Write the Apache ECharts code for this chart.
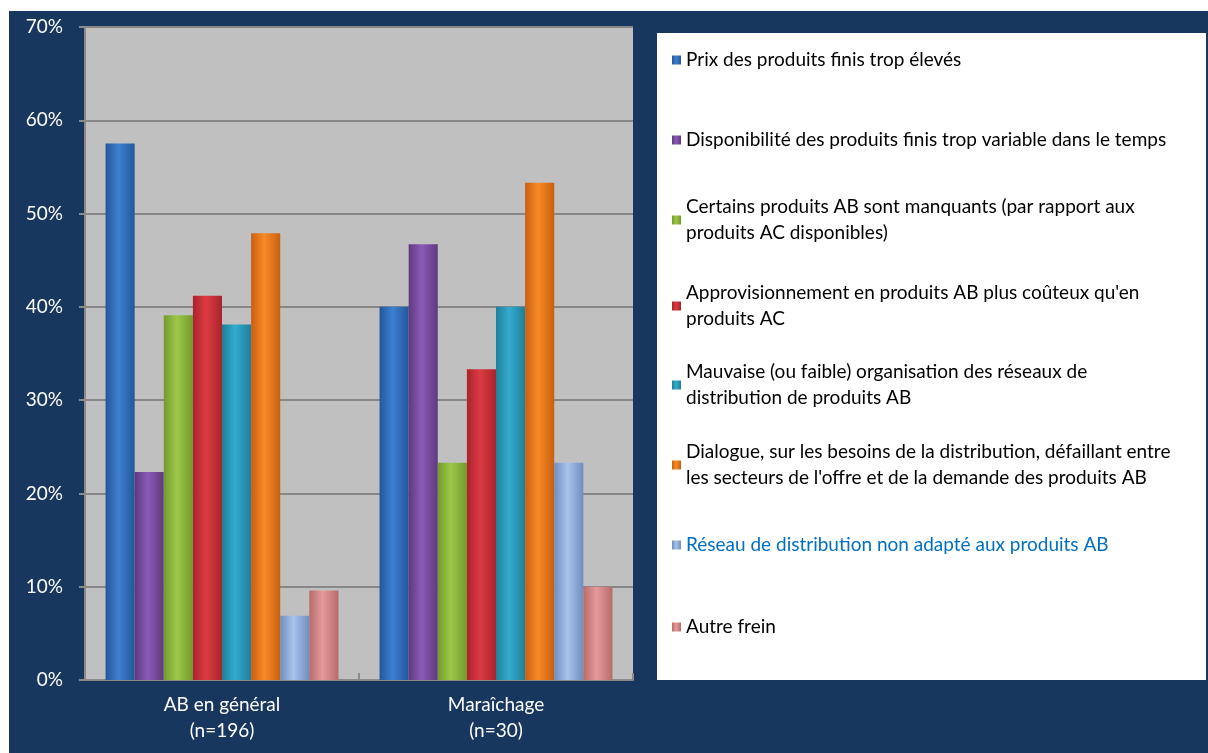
<!DOCTYPE html>
<html>
<head>
<meta charset="utf-8">
<script src="https://cdn.jsdelivr.net/npm/echarts@6/dist/echarts.min.js"></script>
<style>
  html, body { margin: 0; padding: 0; background: #fff; }
  #chart { width: 1208px; height: 753px; }
</style>
</head>
<body>
<div id="chart"></div>
<script>
// categories (x axis)
const categories = ['AB en général\n(n=196)', 'Maraîchage\n(n=30)'];

// legend / series names, wrapped like the original legend box
const seriesNames = [
  'Prix des produits finis trop élevés',
  'Disponibilité des produits finis trop variable dans le temps',
  'Certains produits AB sont manquants (par rapport aux\nproduits AC disponibles)',
  'Approvisionnement en produits AB plus coûteux qu\'en\nproduits AC',
  'Mauvaise (ou faible) organisation des réseaux de\ndistribution de produits AB',
  'Dialogue, sur les besoins de la distribution, défaillant entre\nles secteurs de l\'offre et de la demande des produits AB',
  'Réseau de distribution non adapté aux produits AB',
  'Autre frein'
];

// values in %, [AB en général, Maraîchage]
const prix = [57.5, 40.0];
const disponibilite = [22.3, 46.7];
const manquants = [39.1, 23.3];
const approvisionnement = [41.2, 33.3];
const organisation = [38.1, 40.0];
const dialogue = [47.9, 53.3];
const reseau = [6.9, 23.3];
const autre = [9.6, 10.0];
const values = [prix, disponibilite, manquants, approvisionnement, organisation, dialogue, reseau, autre];

// y axis ticks (%)
const yTicks = [0, 10, 20, 30, 40, 50, 60, 70];

// bar colours: [edge, centre]
const palette = [
  ['#24579a', '#3d7fd0'],
  ['#60397f', '#8a5bb6'],
  ['#739a2c', '#9cc84a'],
  ['#a9242c', '#dc3a42'],
  ['#1f7f99', '#34abcd'],
  ['#c85f10', '#f88b26'],
  ['#6f8fbf', '#a9c3ea'],
  ['#b86a6a', '#e59b9b']
];
const legendColors = ['#000', '#000', '#000', '#000', '#000', '#000', '#0070c0', '#000'];
// y of first legend line centre
const legendRows = [60, 140, 220, 306, 385, 465, 545, 627];

const NAVY = '#17375e';
const FONT = 'Lato';
const LINE = 26;

function barGradient(c) {
  return new echarts.graphic.LinearGradient(0, 0, 1, 0, [
    { offset: 0, color: c[0] },
    { offset: 0.45, color: c[1] },
    { offset: 1, color: c[0] }
  ]);
}

const series = seriesNames.map((name, i) => ({
  name,
  type: 'bar',
  barGap: '0%',
  barCategoryGap: '15%',
  data: values[i].map(v => v / 100),
  itemStyle: { color: barGradient(palette[i]) },
  emphasis: { disabled: true }
}));

// one legend per entry so each one sits on its own row like in Excel
const legends = seriesNames.map((name, i) => {
  const twoLines = name.indexOf('\n') >= 0;
  return {
    data: [name],
    left: 672,
    top: legendRows[i] - (twoLines ? LINE * 1.5 : LINE / 2),
    padding: 0,
    itemWidth: 9,
    itemHeight: 9,
    itemGap: 0,
    icon: 'rect',
    selectedMode: false,
    textStyle: {
      color: legendColors[i],
      fontFamily: FONT,
      fontSize: 19,
      lineHeight: LINE,
      padding: twoLines ? [LINE, 0, 0, 0] : 0
    }
  };
});

const chart = echarts.init(document.getElementById('chart'));
chart.setOption({
  animation: false,
  backgroundColor: '#fff',
  textStyle: { fontFamily: FONT },
  graphic: [
    { type: 'rect', z: -10, shape: { x: 9, y: 11, width: 1199, height: 742 }, style: { fill: NAVY } },
    { type: 'rect', z: -9, shape: { x: 657, y: 33, width: 549, height: 647 }, style: { fill: '#fff' } }
  ],
  grid: { left: 85, top: 27, width: 548, height: 653, containLabel: false, backgroundColor: '#c0c0c0', show: true, borderWidth: 0 },
  legend: legends,
  xAxis: {
    type: 'category',
    data: categories,
    axisLine: { lineStyle: { color: '#8a8a8a', width: 2 } },
    axisTick: { show: true, inside: true, length: 7, lineStyle: { color: '#8a8a8a', width: 2 } },
    axisLabel: { color: '#fff', fontSize: 19, lineHeight: LINE, margin: 12, fontFamily: FONT }
  },
  yAxis: {
    type: 'value',
    min: yTicks[0] / 100,
    max: yTicks[yTicks.length - 1] / 100,
    interval: 0.1,
    axisLine: { show: true, lineStyle: { color: '#8a8a8a', width: 2 } },
    axisTick: { show: true, length: 6, lineStyle: { color: '#8a8a8a', width: 2 } },
    axisLabel: { color: '#fff', fontSize: 19, margin: 22, fontFamily: FONT, formatter: v => Math.round(v * 100) + '%' },
    splitLine: { lineStyle: { color: '#878787', width: 2 } }
  },
  series
});
</script>
</body>
</html>
